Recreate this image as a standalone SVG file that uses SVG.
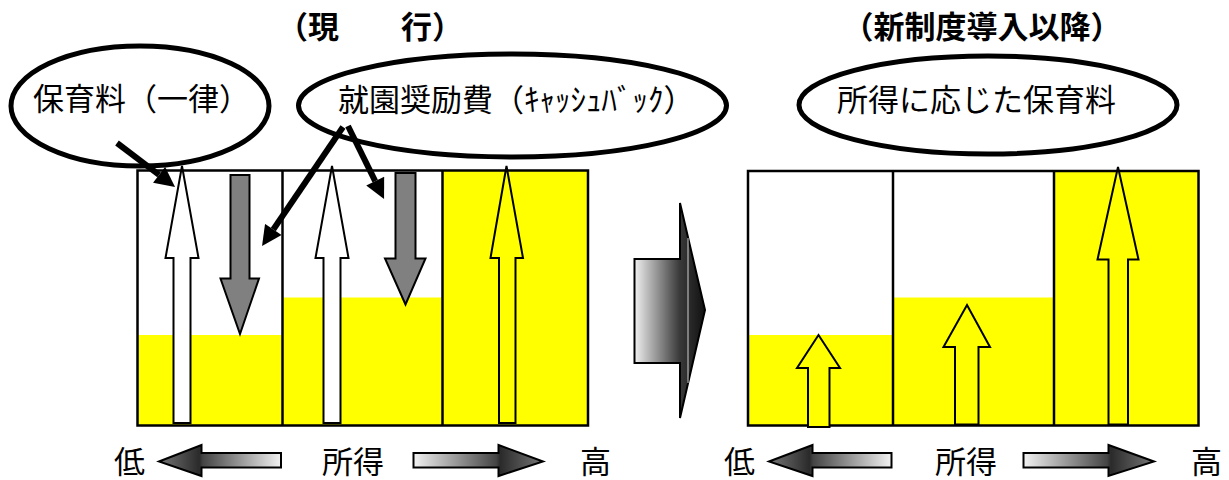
<svg xmlns="http://www.w3.org/2000/svg" width="1229" height="480" viewBox="0 0 1229 480">
<defs>
<style>
.t{font-family:'Liberation Sans','Noto Sans CJK JP',sans-serif;fill:#000;}
.title{font-size:31px;font-weight:bold;}
.lbl{font-size:31px;}
.ell{fill:#fff;stroke:#000;stroke-width:5;}
.frame{fill:none;stroke:#000;stroke-width:2.5;}
.yel{fill:#ffff00;}
.blk{fill:none;stroke:#000;stroke-width:2;stroke-linejoin:miter;}
.conn{stroke:#000;stroke-width:6;fill:none;}
.garrow{stroke:#000;stroke-width:2;}
</style>
<marker id="ah" viewBox="0 0 20 20" refX="0" refY="10" markerUnits="userSpaceOnUse" markerWidth="21" markerHeight="20" orient="auto">
<path d="M0,0 L20,10 L0,20 z" fill="#000"/>
</marker>
<linearGradient id="gL" x1="0" y1="0" x2="1" y2="0">
<stop offset="0" stop-color="#777"/>
<stop offset="0.33" stop-color="#2a2a2a"/>
<stop offset="0.36" stop-color="#444"/>
<stop offset="1" stop-color="#f2f2f2"/>
</linearGradient>
<linearGradient id="gR" x1="0" y1="0" x2="1" y2="0">
<stop offset="0" stop-color="#f2f2f2"/>
<stop offset="0.64" stop-color="#444"/>
<stop offset="0.67" stop-color="#2a2a2a"/>
<stop offset="1" stop-color="#777"/>
</linearGradient>
<linearGradient id="gBig" x1="634" y1="0" x2="705" y2="0" gradientUnits="userSpaceOnUse">
<stop offset="0" stop-color="#f2f2f2"/>
<stop offset="0.64" stop-color="#3a3a3a"/>
<stop offset="1" stop-color="#111"/>
</linearGradient>
</defs>

<rect width="1229" height="480" fill="#fff"/>

<g id="title-current"><text class="t title" x="370" y="38" text-anchor="middle">（現　　行）</text></g>
<g id="title-new"><text class="t title" x="982" y="38" text-anchor="middle">（新制度導入以降）</text></g>

<g id="ellipse-fee">
<ellipse class="ell" cx="140" cy="106" rx="129" ry="60"/>
<text class="t lbl" x="33" y="110">保育料（一律）</text>
</g>
<g id="ellipse-subsidy">
<ellipse class="ell" cx="512.5" cy="105.5" rx="214" ry="51.5"/>
<text class="t lbl" x="338" y="111">就園奨励費（ｷｬｯｼｭﾊﾞｯｸ）</text>
</g>
<g id="ellipse-newfee">
<ellipse class="ell" cx="988" cy="105" rx="189" ry="49"/>
<text class="t lbl" x="837" y="111">所得に応じた保育料</text>
</g>

<g id="chart-current">
<rect class="yel" x="137.5" y="335" width="145" height="90.5"/>
<rect class="yel" x="282.5" y="297.5" width="160" height="128"/>
<rect class="yel" x="442.5" y="170.5" width="145.5" height="255"/>
<rect class="frame" x="137.5" y="170.5" width="450.5" height="255"/>
<line class="frame" x1="282.5" y1="170.5" x2="282.5" y2="425.5"/>
<line class="frame" x1="442.5" y1="170.5" x2="442.5" y2="425.5"/>
<polygon class="blk" style="fill:#fff" points="182,166 198.5,258 190.5,258 190.5,423 173.5,423 173.5,258 165.5,258"/>
<polygon class="blk" style="fill:#808080" points="230.5,175 249.5,175 249.5,278.5 259,278.5 240,334 220.5,278.5 230.5,278.5"/>
<polygon class="blk" style="fill:#fff" points="332,166 348.5,258 340.5,258 340.5,423 323.5,423 323.5,258 315.5,258"/>
<polygon class="blk" style="fill:#808080" points="395.5,173 415.5,173 415.5,258.5 425.5,258.5 405.5,304.5 385,258.5 395.5,258.5"/>
<polygon class="blk" style="fill:#ffff00" points="506.5,166 523,258 515.5,258 515.5,423 499,423 499,258 490.5,258"/>
</g>

<g id="chart-new">
<rect class="yel" x="748" y="335" width="145" height="90.5"/>
<rect class="yel" x="893" y="297.5" width="161" height="128"/>
<rect class="yel" x="1054" y="171" width="144.5" height="254.5"/>
<rect class="frame" x="748" y="171" width="450.5" height="254.5"/>
<line class="frame" x1="893" y1="171" x2="893" y2="425.5"/>
<line class="frame" x1="1054" y1="171" x2="1054" y2="425.5"/>
<polygon class="blk" style="fill:#ffff00" points="818.5,335 840,368 829.5,368 829.5,427 808,427 808,368 797,368"/>
<polygon class="blk" style="fill:#ffff00" points="967,305 990,347 978.5,347 978.5,424.5 955,424.5 955,347 943.5,347"/>
<polygon class="blk" style="fill:#ffff00" points="1118,167 1138.5,259.5 1128,259.5 1128,424.5 1108.5,424.5 1108.5,259.5 1097.5,259.5"/>
</g>

<g id="transition-arrow">
<polygon class="garrow" fill="url(#gBig)" points="634.5,259 680,259 680,203 705,310 680,418 680,363 634.5,363"/>
<line x1="688" y1="238" x2="688" y2="383" stroke="#d0d0d0" stroke-width="1"/>
</g>

<g id="connectors">
<line class="conn" x1="117" y1="143" x2="159.1" y2="174.9" marker-end="url(#ah)"/>
<line class="conn" x1="343" y1="127" x2="273.3" y2="229.5" marker-end="url(#ah)"/>
<line class="conn" x1="348" y1="126" x2="375.2" y2="181.1" marker-end="url(#ah)"/>
</g>

<g id="income-axis-current">
<text class="t lbl" x="114" y="473">低</text>
<polygon class="garrow" fill="url(#gL)" points="159,461.5 201.5,445 201.5,453 281,453 281,467.5 201.5,467.5 201.5,476"/>
<text class="t lbl" x="322" y="473">所得</text>
<polygon class="garrow" fill="url(#gR)" points="413.5,453 498.5,453 498.5,445 543,461.5 498.5,476 498.5,467.5 413.5,467.5"/>
<text class="t lbl" x="580" y="473">高</text>
</g>

<g id="income-axis-new">
<text class="t lbl" x="724" y="473">低</text>
<polygon class="garrow" fill="url(#gL)" points="769,461.5 812.5,445 812.5,453 891.5,453 891.5,467.5 812.5,467.5 812.5,476"/>
<text class="t lbl" x="935" y="473">所得</text>
<polygon class="garrow" fill="url(#gR)" points="1023.5,453 1108.5,453 1108.5,445 1154,461.5 1108.5,476 1108.5,467.5 1023.5,467.5"/>
<text class="t lbl" x="1191" y="473">高</text>
</g>
</svg>
